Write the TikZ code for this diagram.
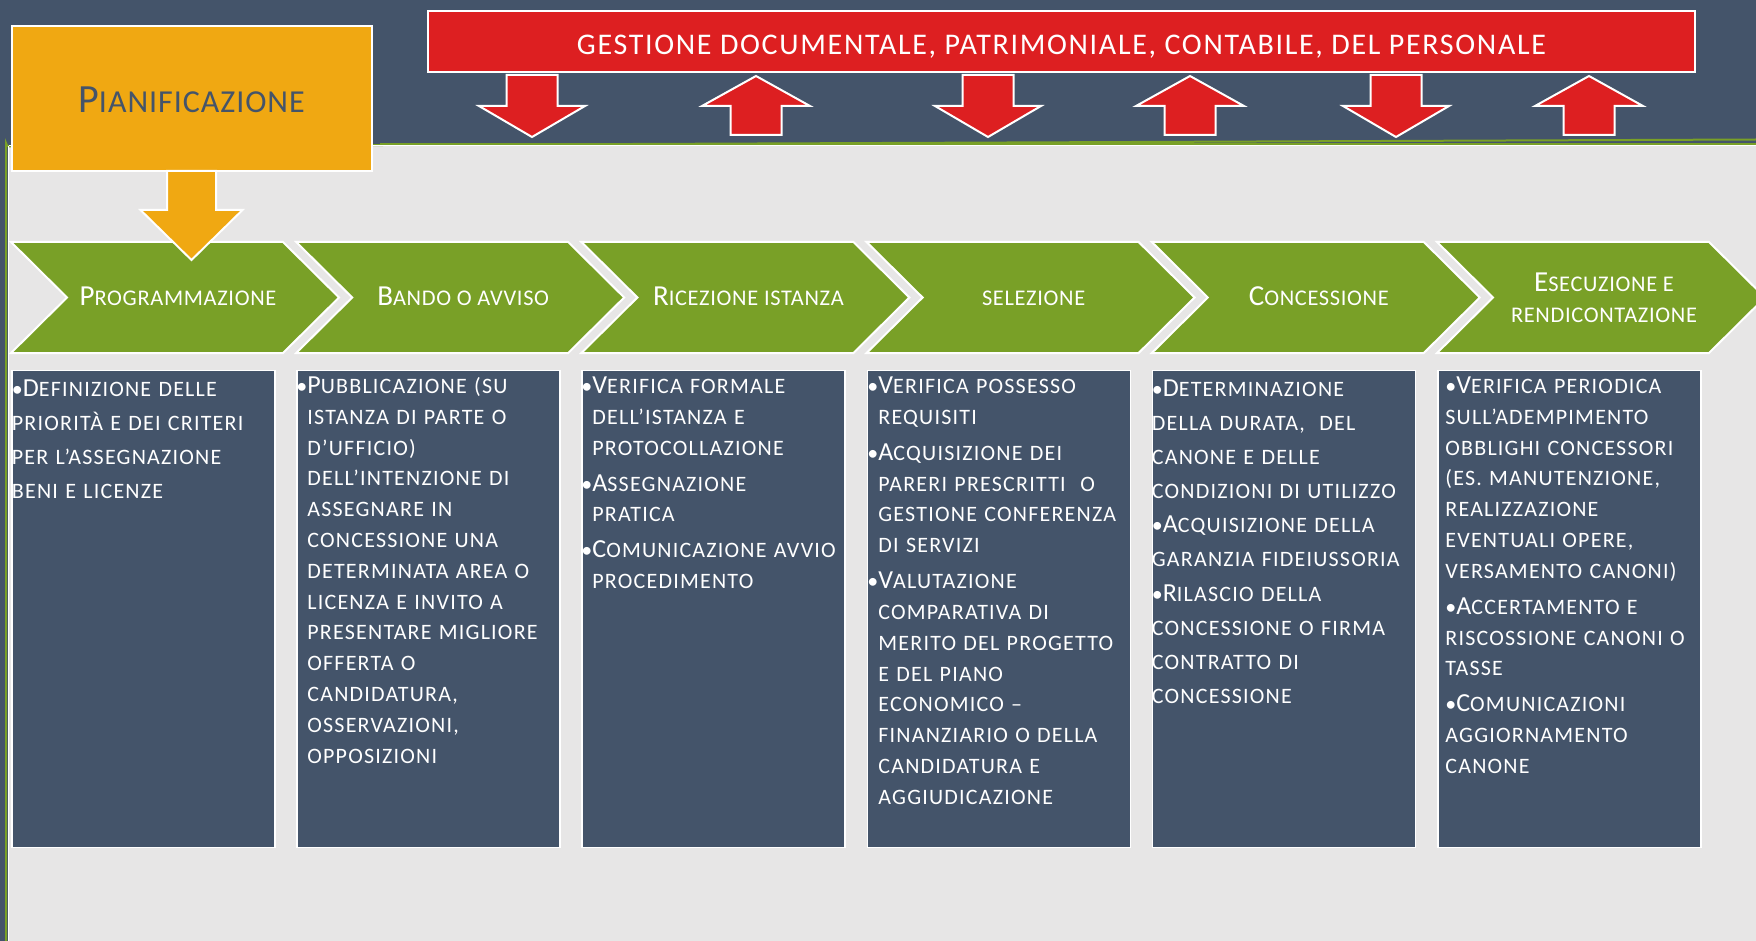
\documentclass[tikz,border=0pt]{standalone}
\usepackage{fontspec}
\setmainfont{Carlito}
\newfontfamily\bxfont[LetterSpace=5.5]{Carlito}
\newfontfamily\hdfont[LetterSpace=3]{Carlito}
\newfontfamily\bnfont[LetterSpace=5.6]{Carlito}
\definecolor{slate}{HTML}{44546A}
\definecolor{panelgrey}{HTML}{E7E6E6}
\definecolor{leaf}{HTML}{79A027}
\definecolor{amber}{HTML}{F0A812}
\definecolor{scarlet}{HTML}{DD1F21}
\newcommand\Ci[1]{{\fontsize{13}{15.4}\selectfont #1}}
\newcommand\Ch[1]{{\fontsize{14.5}{16}\selectfont #1}}
\newcommand\Bl{\textbullet}
\newcommand\Hb{\leavevmode\llap{\textbullet}}
\newcommand\Fr{\rule{0pt}{9pt}}
\tikzset{
  boxshape/.style={draw=white, fill=slate, line width=0.8pt},
  chevshape/.style={draw=white, fill=leaf, line width=1pt, line join=miter},
  redarrow/.style={draw=white, fill=scarlet, line width=1pt, line join=miter},
  amberarrow/.style={draw=white, fill=amber, line width=1pt, line join=miter},
  boxtext/.style={anchor=north west, inner sep=0pt, text=white, align=left,
    text width=140pt, execute at begin node={\parindent=0pt},
    font=\bxfont\fontsize{11}{15.4}\selectfont},
  widetext/.style={boxtext, font=\bxfont\fontsize{11}{17.05}\selectfont},
  chevtext/.style={inner sep=0pt, text=white, align=center,
    font=\hdfont\fontsize{11.2}{15.5}\selectfont},
}
\begin{document}
\begin{tikzpicture}[x=0.5pt,y=-0.5pt]
\useasboundingbox (0,0) rectangle (1756,941);
% background
\fill[slate] (0,0) rectangle (1756,941);
\fill[panelgrey] (8,145) rectangle (1756,941);
\draw[leaf, line width=1pt] (6,941) -- (6,143) arc[start angle=180, end angle=90, radius=3.5] -- (1756,139.5);
\draw[leaf, line width=0.8pt] (380,143.8) -- (1756,143.8);
\draw[white, line width=0.5pt] (8.8,146) -- (8.8,941);
\draw[white, line width=0.5pt] (8.8,145.5) -- (1756,145.5);

% red banner and arrows
\node[draw=white, fill=scarlet, line width=1pt, minimum width=633.5pt, minimum height=30.5pt, inner sep=0pt] (banner) at (1061.5,41.5) {};
\node[anchor=base, inner sep=0pt, text=white, font=\bnfont\fontsize{15}{18}\selectfont] (bannertext) at (1061.5,55) {GESTIONE DOCUMENTALE, PATRIMONIALE, CONTABILE, DEL PERSONALE};
\foreach \c in {532,988,1396} {
  \draw[redarrow] (\c-25.5,75) -- (\c+25.5,75) -- (\c+25.5,106) -- (\c+53,106) -- (\c,137) -- (\c-53,106) -- (\c-25.5,106) -- cycle;
}
\foreach \c in {756,1190,1589} {
  \draw[redarrow] (\c,76) -- (\c+54,106) -- (\c+25.5,106) -- (\c+25.5,135) -- (\c-25.5,135) -- (\c-25.5,106) -- (\c-54,106) -- cycle;
}

% pianificazione
\node[draw=white, fill=amber, line width=1pt, minimum width=180.25pt, minimum height=72.5pt, inner sep=0pt] (plan) at (191.75,98.5) {};
\node[anchor=base, inner sep=0pt, text=slate, font=\hdfont\fontsize{16}{20}\selectfont] (plantext) at (191.5,113) {{\fontsize{20}{22}\selectfont P}IANIFICAZIONE};

% chevrons
\foreach \i/\lab in {0/{\Ch{P}ROGRAMMAZIONE}, 1/{\Ch{B}ANDO O AVVISO}, 2/{\Ch{R}ICEZIONE ISTANZA}, 3/{SELEZIONE}, 4/{\Ch{C}ONCESSIONE}} {
  \pgfmathsetmacro\cl{11+285.2*\i}
  \draw[chevshape] (\cl,242) -- ++(272,0) -- ++(56,55.5) -- ++(-56,55.5) -- ++(-272,0) -- ++(56,-55.5) -- cycle;
  \node[chevtext, anchor=base] (c\i) at (\cl+167,306) {\lab};
}
\draw[chevshape] (1437,242) -- ++(272,0) -- ++(56,55.5) -- ++(-56,55.5) -- ++(-272,0) -- ++(56,-55.5) -- cycle;
\node[chevtext, anchor=north] (c5) at (1604,271) {\rule{0pt}{10pt}\Ch{E}SECUZIONE E\\RENDICONTAZIONE};

% pianificazione arrow
\draw[amberarrow] (167,171) -- (216,171) -- (216,210) -- (242.5,210) -- (191.5,260) -- (140.5,210) -- (167,210) -- cycle;

% text boxes
\foreach \i in {0,...,5} {
  \pgfmathsetmacro\cl{11+285.2*\i}
  \node[boxshape, anchor=north west, minimum width=131.5pt, minimum height=238.5pt, inner sep=0pt] (b\i) at (\cl,369.5) {};
}

\node[widetext] (t0) at (11.5,378) {\Fr\Bl\Ci{D}EFINIZIONE DELLE\\
PRIORITÀ E DEI CRITERI\\
PER L’ASSEGNAZIONE\\
BENI E LICENZE};

\node[boxtext] (t1) at (307,375) {\Fr\Hb\Ci{P}UBBLICAZIONE (SU\\
ISTANZA DI PARTE O\\
D’UFFICIO)\\
DELL’INTENZIONE DI\\
ASSEGNARE IN\\
CONCESSIONE UNA\\
DETERMINATA AREA O\\
LICENZA E INVITO A\\
PRESENTARE MIGLIORE\\
OFFERTA O\\
CANDIDATURA,\\
OSSERVAZIONI,\\
OPPOSIZIONI};

\node[boxtext] (t2) at (592,375) {\Fr\Hb\Ci{V}ERIFICA FORMALE\\
DELL’ISTANZA E\\
PROTOCOLLAZIONE\\[2.6pt]
\Hb\Ci{A}SSEGNAZIONE\\
PRATICA\\[2.6pt]
\Hb\Ci{C}OMUNICAZIONE AVVIO\\
PROCEDIMENTO};

\node[boxtext] (t3) at (878,375) {\Fr\Hb\Ci{V}ERIFICA POSSESSO\\
REQUISITI\\[2.6pt]
\Hb\Ci{A}CQUISIZIONE DEI\\
PARERI PRESCRITTI\ \ O\\
GESTIONE CONFERENZA\\
DI SERVIZI\\[2.6pt]
\Hb\Ci{V}ALUTAZIONE\\
COMPARATIVA DI\\
MERITO DEL PROGETTO\\
E DEL PIANO\\
ECONOMICO –\\
FINANZIARIO O DELLA\\
CANDIDATURA E\\
AGGIUDICAZIONE};

\node[widetext] (t4) at (1151.5,378) {\Fr\Bl\Ci{D}ETERMINAZIONE\\
DELLA DURATA,\ \ DEL\\
CANONE E DELLE\\
CONDIZIONI DI UTILIZZO\\
\Bl\Ci{A}CQUISIZIONE DELLA\\
GARANZIA FIDEIUSSORIA\\
\Bl\Ci{R}ILASCIO DELLA\\
CONCESSIONE O FIRMA\\
CONTRATTO DI\\
CONCESSIONE};

\node[boxtext] (t5) at (1445,375) {\Fr\Bl\Ci{V}ERIFICA PERIODICA\\
SULL’ADEMPIMENTO\\
OBBLIGHI CONCESSORI\\
(ES. MANUTENZIONE,\\
REALIZZAZIONE\\
EVENTUALI OPERE,\\
VERSAMENTO CANONI)\\[2.6pt]
\Bl\Ci{A}CCERTAMENTO E\\
RISCOSSIONE CANONI O\\
TASSE\\[2.6pt]
\Bl\Ci{C}OMUNICAZIONI\\
AGGIORNAMENTO\\
CANONE};
\end{tikzpicture}
\end{document}
